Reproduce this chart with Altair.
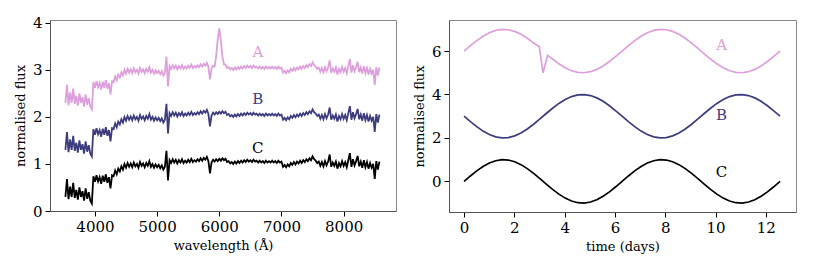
import altair as alt
import pandas as pd

# ---------------- left panel: spectra ----------------
wavelength = [
    3525, 3550, 3575, 3600, 3625, 3650, 3675, 3700,
    3725, 3750, 3775, 3800, 3825, 3850, 3875, 3900,
    3925, 3950, 3975, 4000, 4025, 4050, 4075, 4100,
    4125, 4150, 4175, 4200, 4225, 4250, 4275, 4300,
    4325, 4350, 4375, 4400, 4425, 4450, 4475, 4500,
    4525, 4550, 4575, 4600, 4625, 4650, 4675, 4700,
    4725, 4750, 4775, 4800, 4825, 4850, 4875, 4900,
    4925, 4950, 4975, 5000, 5025, 5050, 5075, 5100,
    5125, 5150, 5175, 5200, 5225, 5250, 5275, 5300,
    5325, 5350, 5375, 5400, 5425, 5450, 5475, 5500,
    5525, 5550, 5575, 5600, 5625, 5650, 5675, 5700,
    5725, 5750, 5775, 5800, 5825, 5850, 5875, 5900,
    5925, 5950, 5975, 6000, 6025, 6050, 6075, 6100,
    6125, 6150, 6175, 6200, 6225, 6250, 6275, 6300,
    6325, 6350, 6375, 6400, 6425, 6450, 6475, 6500,
    6525, 6550, 6575, 6600, 6625, 6650, 6675, 6700,
    6725, 6750, 6775, 6800, 6825, 6850, 6875, 6900,
    6925, 6950, 6975, 7000, 7025, 7050, 7075, 7100,
    7125, 7150, 7175, 7200, 7225, 7250, 7275, 7300,
    7325, 7350, 7375, 7400, 7425, 7450, 7475, 7500,
    7525, 7550, 7575, 7600, 7625, 7650, 7675, 7700,
    7725, 7750, 7775, 7800, 7825, 7850, 7875, 7900,
    7925, 7950, 7975, 8000, 8025, 8050, 8075, 8100,
    8125, 8150, 8175, 8200, 8225, 8250, 8275, 8300,
    8325, 8350, 8375, 8400, 8425, 8450, 8475, 8500,
    8525, 8550, 8575,
]

flux_spec_a = [
    2.30, 2.68, 2.25, 2.52, 2.30, 2.60, 2.28, 2.45,
    2.24, 2.50, 2.30, 2.42, 2.22, 2.48, 2.26, 2.40,
    2.22, 2.16, 2.74, 2.62, 2.76, 2.63, 2.72, 2.58,
    2.75, 2.62, 2.78, 2.60, 2.72, 2.48, 2.76, 2.74,
    2.86, 2.78, 2.90, 2.84, 2.95, 2.88, 3.00, 2.92,
    3.02, 2.94, 3.01, 2.93, 3.03, 2.95, 3.00, 2.92,
    3.04, 2.96, 3.01, 2.93, 3.02, 2.96, 3.06, 2.94,
    3.00, 2.92, 2.99, 2.93, 2.98, 2.91, 2.97, 2.88,
    2.94, 3.28, 2.65, 3.08, 3.02, 3.10, 3.03, 3.09,
    3.01, 3.08, 3.03, 3.10, 3.02, 3.07, 3.03, 3.09,
    3.04, 3.11, 3.04, 3.08, 3.05, 3.10, 3.06, 3.12,
    3.07, 3.13, 3.09, 3.15, 3.06, 2.80, 3.03, 3.09,
    3.07, 3.30, 3.65, 3.88, 3.62, 3.28, 3.12, 3.11,
    3.04, 3.06, 3.01, 3.04, 3.00, 3.05, 3.01, 3.06,
    3.02, 3.07, 3.03, 3.08, 3.04, 3.09, 3.05, 3.08,
    3.04, 3.09, 3.05, 3.07, 3.03, 3.07, 3.03, 3.06,
    3.02, 3.07, 3.03, 3.06, 3.03, 3.07, 3.03, 3.06,
    3.02, 3.07, 3.03, 3.05, 2.94, 2.98, 2.93, 2.99,
    2.95, 3.02, 2.98, 3.04, 2.99, 3.05, 3.01, 3.07,
    3.02, 3.08, 3.04, 3.10, 3.06, 3.12, 3.08, 3.16,
    3.10, 3.07, 3.02, 3.05, 2.96, 3.04, 2.95, 3.06,
    2.97, 3.05, 3.20, 2.94, 3.03, 2.96, 3.05, 2.90,
    3.02, 2.95, 3.06, 2.96, 3.04, 2.93, 3.08, 3.23,
    2.94, 3.10, 2.97, 3.06, 3.17, 2.95, 3.05, 2.92,
    3.08, 2.93, 3.04, 2.90, 3.02, 2.92, 3.00, 2.68,
    3.06, 2.88, 3.05,
]

flux_spec_b = [
    1.30, 1.68, 1.25, 1.52, 1.30, 1.60, 1.28, 1.45,
    1.24, 1.50, 1.30, 1.42, 1.22, 1.48, 1.26, 1.40,
    1.22, 1.16, 1.74, 1.62, 1.76, 1.63, 1.72, 1.58,
    1.75, 1.62, 1.78, 1.60, 1.72, 1.48, 1.76, 1.74,
    1.86, 1.78, 1.90, 1.84, 1.95, 1.88, 2.00, 1.92,
    2.02, 1.94, 2.01, 1.93, 2.03, 1.95, 2.00, 1.92,
    2.04, 1.96, 2.01, 1.93, 2.02, 1.96, 2.06, 1.94,
    2.00, 1.92, 1.99, 1.93, 1.98, 1.91, 1.97, 1.88,
    1.94, 2.28, 1.65, 2.08, 2.02, 2.10, 2.03, 2.09,
    2.01, 2.08, 2.03, 2.10, 2.02, 2.07, 2.03, 2.09,
    2.04, 2.11, 2.04, 2.08, 2.05, 2.10, 2.06, 2.12,
    2.07, 2.13, 2.09, 2.15, 2.06, 1.80, 2.03, 2.09,
    2.05, 2.10, 2.06, 2.11, 2.07, 2.12, 2.08, 2.11,
    2.04, 2.06, 2.01, 2.04, 2.00, 2.05, 2.01, 2.06,
    2.02, 2.07, 2.03, 2.08, 2.04, 2.09, 2.05, 2.08,
    2.04, 2.09, 2.05, 2.07, 2.03, 2.07, 2.03, 2.06,
    2.02, 2.07, 2.03, 2.06, 2.03, 2.07, 2.03, 2.06,
    2.02, 2.07, 2.03, 2.05, 1.94, 1.98, 1.93, 1.99,
    1.95, 2.02, 1.98, 2.04, 1.99, 2.05, 2.01, 2.07,
    2.02, 2.08, 2.04, 2.10, 2.06, 2.12, 2.08, 2.16,
    2.10, 2.07, 2.02, 2.05, 1.96, 2.04, 1.95, 2.06,
    1.97, 2.05, 2.20, 1.94, 2.03, 1.96, 2.05, 1.90,
    2.02, 1.95, 2.06, 1.96, 2.04, 1.93, 2.08, 2.23,
    1.94, 2.10, 1.97, 2.06, 2.17, 1.95, 2.05, 1.92,
    2.08, 1.93, 2.04, 1.90, 2.02, 1.92, 2.00, 1.68,
    2.06, 1.88, 2.05,
]

flux_spec_c = [
    0.30, 0.68, 0.25, 0.52, 0.30, 0.60, 0.28, 0.45,
    0.24, 0.50, 0.30, 0.42, 0.22, 0.48, 0.26, 0.40,
    0.22, 0.16, 0.74, 0.62, 0.76, 0.63, 0.72, 0.58,
    0.75, 0.62, 0.78, 0.60, 0.72, 0.48, 0.76, 0.74,
    0.86, 0.78, 0.90, 0.84, 0.95, 0.88, 1.00, 0.92,
    1.02, 0.94, 1.01, 0.93, 1.03, 0.95, 1.00, 0.92,
    1.04, 0.96, 1.01, 0.93, 1.02, 0.96, 1.06, 0.94,
    1.00, 0.92, 0.99, 0.93, 0.98, 0.91, 0.97, 0.88,
    0.94, 1.28, 0.65, 1.08, 1.02, 1.10, 1.03, 1.09,
    1.01, 1.08, 1.03, 1.10, 1.02, 1.07, 1.03, 1.09,
    1.04, 1.11, 1.04, 1.08, 1.05, 1.10, 1.06, 1.12,
    1.07, 1.13, 1.09, 1.15, 1.06, 0.80, 1.03, 1.09,
    1.05, 1.10, 1.06, 1.11, 1.07, 1.12, 1.08, 1.11,
    1.04, 1.06, 1.01, 1.04, 1.00, 1.05, 1.01, 1.06,
    1.02, 1.07, 1.03, 1.08, 1.04, 1.09, 1.05, 1.08,
    1.04, 1.09, 1.05, 1.07, 1.03, 1.07, 1.03, 1.06,
    1.02, 1.07, 1.03, 1.06, 1.03, 1.07, 1.03, 1.06,
    1.02, 1.07, 1.03, 1.05, 0.94, 0.98, 0.93, 0.99,
    0.95, 1.02, 0.98, 1.04, 0.99, 1.05, 1.01, 1.07,
    1.02, 1.08, 1.04, 1.10, 1.06, 1.12, 1.08, 1.16,
    1.10, 1.07, 1.02, 1.05, 0.96, 1.04, 0.95, 1.06,
    0.97, 1.05, 1.20, 0.94, 1.03, 0.96, 1.05, 0.90,
    1.02, 0.95, 1.06, 0.96, 1.04, 0.93, 1.08, 1.23,
    0.94, 1.10, 0.97, 1.06, 1.17, 0.95, 1.05, 0.92,
    1.08, 0.93, 1.04, 0.90, 1.02, 0.92, 1.00, 0.68,
    1.06, 0.88, 1.05,
]

# ---------------- right panel: light curves ----------------
time_bc = [
    0.000, 0.251, 0.503, 0.754, 1.005, 1.257, 1.508, 1.759, 2.011, 2.262,
    2.513, 2.765, 3.016, 3.267, 3.519, 3.770, 4.021, 4.273, 4.524, 4.775,
    5.027, 5.278, 5.529, 5.781, 6.032, 6.283, 6.535, 6.786, 7.037, 7.288,
    7.540, 7.791, 8.042, 8.294, 8.545, 8.796, 9.048, 9.299, 9.550, 9.802,
    10.053, 10.304, 10.556, 10.807, 11.058, 11.310, 11.561, 11.812, 12.064, 12.315,
    12.566,
]
flux_lc_b = [
    3.000, 2.751, 2.518, 2.315, 2.156, 2.049, 2.002, 2.018, 2.095, 2.229,
    2.412, 2.632, 2.875, 3.125, 3.368, 3.588, 3.771, 3.905, 3.982, 3.998,
    3.951, 3.844, 3.685, 3.482, 3.249, 3.000, 2.751, 2.518, 2.315, 2.156,
    2.049, 2.002, 2.018, 2.095, 2.229, 2.412, 2.632, 2.875, 3.125, 3.368,
    3.588, 3.771, 3.905, 3.982, 3.998, 3.951, 3.844, 3.685, 3.482, 3.249,
    3.000,
]
flux_lc_c = [
    0.000, 0.249, 0.482, 0.685, 0.844, 0.951, 0.998, 0.982, 0.905, 0.771,
    0.588, 0.368, 0.125, -0.125, -0.368, -0.588, -0.771, -0.905, -0.982, -0.998,
    -0.951, -0.844, -0.685, -0.482, -0.249, 0.000, 0.249, 0.482, 0.685, 0.844,
    0.951, 0.998, 0.982, 0.905, 0.771, 0.588, 0.368, 0.125, -0.125, -0.368,
    -0.588, -0.771, -0.905, -0.982, -0.998, -0.951, -0.844, -0.685, -0.482, -0.249,
    0.000,
]
time_a = [
    0.000, 0.251, 0.503, 0.754, 1.005, 1.257, 1.508, 1.759, 2.011, 2.262,
    2.513, 2.765, 2.990, 3.140, 3.320,
    3.519, 3.770, 4.021, 4.273, 4.524, 4.775,
    5.027, 5.278, 5.529, 5.781, 6.032, 6.283, 6.535, 6.786, 7.037, 7.288,
    7.540, 7.791, 8.042, 8.294, 8.545, 8.796, 9.048, 9.299, 9.550, 9.802,
    10.053, 10.304, 10.556, 10.807, 11.058, 11.310, 11.561, 11.812, 12.064, 12.315,
    12.566,
]
flux_lc_a = [
    6.000, 6.249, 6.482, 6.685, 6.844, 6.951, 6.998, 6.982, 6.905, 6.771,
    6.588, 6.368, 6.200, 5.000, 5.800,
    5.632, 5.412, 5.229, 5.095, 5.018, 5.002,
    5.049, 5.156, 5.315, 5.518, 5.751, 6.000, 6.249, 6.482, 6.685, 6.844,
    6.951, 6.998, 6.982, 6.905, 6.771, 6.588, 6.368, 6.125, 5.875, 5.632,
    5.412, 5.229, 5.095, 5.018, 5.002, 5.049, 5.156, 5.315, 5.518, 5.751,
    6.000,
]

series_names = ["A", "B", "C"]
series_colors = ["#dda0dd", "#3c3c7e", "#000000"]

label_spec_x = [6620, 6620, 6620]
label_spec_y = [3.38, 2.38, 1.34]
label_lc_x = [10.24, 10.24, 10.24]
label_lc_y = [6.27, 3.05, 0.42]

FONT = "DejaVu Serif"

spec_df = pd.concat([
    pd.DataFrame({"wavelength": wavelength, "flux": f, "series": s})
    for s, f in zip(series_names, [flux_spec_a, flux_spec_b, flux_spec_c])
])
lc_df = pd.concat([
    pd.DataFrame({"time": t, "flux": f, "series": s})
    for s, t, f in zip(series_names, [time_a, time_bc, time_bc],
                       [flux_lc_a, flux_lc_b, flux_lc_c])
])
spec_lab = pd.DataFrame({"x": label_spec_x, "y": label_spec_y, "series": series_names})
lc_lab = pd.DataFrame({"x": label_lc_x, "y": label_lc_y, "series": series_names})

color = alt.Color("series:N", scale=alt.Scale(domain=series_names, range=series_colors), legend=None)

xs_spec = alt.Scale(domain=[3277, 8842], nice=False, zero=False)
ys_spec = alt.Scale(domain=[0, 4.06], nice=False, zero=False)
xs_lc = alt.Scale(domain=[-0.6, 13.2], nice=False, zero=False)
ys_lc = alt.Scale(domain=[-1.41, 7.43], nice=False, zero=False)

spec_lines = alt.Chart(spec_df).mark_line(strokeWidth=1.8).encode(
    x=alt.X("wavelength:Q", scale=xs_spec,
            axis=alt.Axis(values=[4000, 5000, 6000, 7000, 8000], format="d", title="wavelength (Å)")),
    y=alt.Y("flux:Q", scale=ys_spec,
            axis=alt.Axis(values=[0, 1, 2, 3, 4], format="d", title="normalised flux")),
    color=color,
    detail="series:N",
)
spec_text = alt.Chart(spec_lab).mark_text(font=FONT, fontSize=15, align="center", baseline="middle").encode(
    x=alt.X("x:Q", scale=xs_spec), y=alt.Y("y:Q", scale=ys_spec), text="series:N", color=color,
)
left = alt.layer(spec_lines, spec_text).properties(width=346, height=191)

lc_lines = alt.Chart(lc_df).mark_line(strokeWidth=1.7).encode(
    x=alt.X("time:Q", scale=xs_lc,
            axis=alt.Axis(values=[0, 2, 4, 6, 8, 10, 12], format="d", title="time (days)")),
    y=alt.Y("flux:Q", scale=ys_lc,
            axis=alt.Axis(values=[0, 2, 4, 6], format="d", title="normalised flux")),
    color=color,
    detail="series:N",
)
lc_text = alt.Chart(lc_lab).mark_text(font=FONT, fontSize=15, align="center", baseline="middle").encode(
    x=alt.X("x:Q", scale=xs_lc), y=alt.Y("y:Q", scale=ys_lc), text="series:N", color=color,
)
right = alt.layer(lc_lines, lc_text).properties(width=347, height=192)

chart = alt.hconcat(left, right, spacing=15).properties(
    padding={"left": 5, "top": 7, "right": 5, "bottom": 5}
).configure_view(
    stroke="#8a8a8a", strokeWidth=1
).configure_axis(
    grid=False,
    labelFont=FONT, labelFontSize=15, labelColor="#000000",
    titleFont=FONT, titleFontSize=13, titleFontWeight="normal", titleColor="#000000",
    domainColor="#555555", tickColor="#000000", tickSize=5,
    labelPadding=3, titlePadding=5,
).configure_text(font=FONT)

chart.save("out.html", embed_options={"renderer": "svg", "actions": False})
